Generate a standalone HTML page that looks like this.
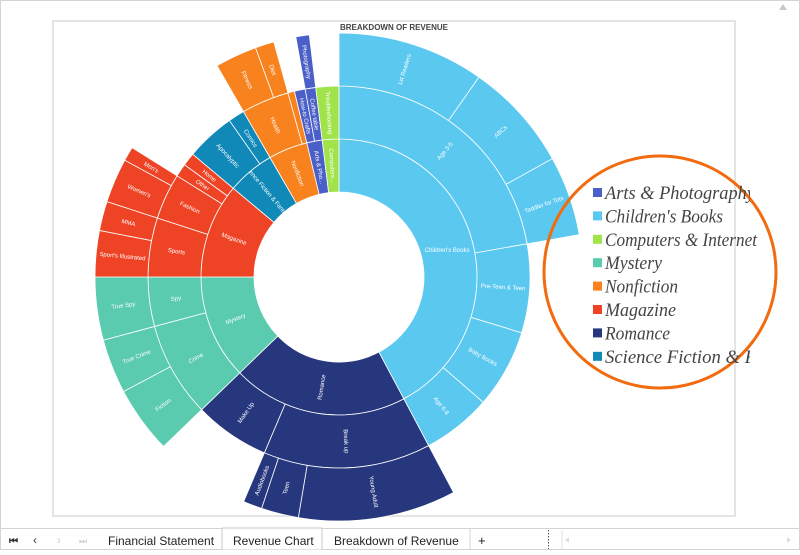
<!DOCTYPE html>
<html><head><meta charset="utf-8"><style>
body{margin:0;width:800px;height:550px;overflow:hidden;background:#fff;font-family:"Liberation Sans",sans-serif;}
</style></head><body>
<svg id="svg" width="800" height="550" viewBox="0 0 800 550" xmlns="http://www.w3.org/2000/svg">
<defs><clipPath id="legclip"><rect x="0" y="0" width="759" height="550"/></clipPath><clipPath id="legclip2"><rect x="0" y="0" width="750" height="550"/></clipPath></defs>
<rect x="0.5" y="0.5" width="799" height="549" fill="#fff" stroke="#d4d4d4"/>
<rect x="53" y="21" width="682" height="495" fill="#fff" stroke="#dcdcdc" stroke-width="1.5"/>
<polygon points="779,10 783,4 787,10" fill="#c8c8c8"/>
<text x="394" y="30" text-anchor="middle" font-size="8" font-weight="bold" fill="#444">BREAKDOWN OF REVENUE</text>
<g id="rings"></g>
<g>
<circle cx="660" cy="272" r="116" fill="none" stroke="#F26B0F" stroke-width="3"/>
<g id="legend"></g>
</g>
<g>
<line x1="0" y1="528.5" x2="800" y2="528.5" stroke="#d4d4d4"/>
<text x="9" y="544" font-size="10" fill="#333" font-weight="bold">⏮</text>
<text x="33" y="544" font-size="12" fill="#333">‹</text>
<text x="57" y="544" font-size="12" fill="#ccc">›</text>
<text x="79" y="544" font-size="9" fill="#ccc">⏭</text>
<text x="108" y="545" font-size="12" fill="#222">Financial Statement</text>
<rect x="222" y="528" width="100" height="22" fill="#fff" stroke="#c8c8c8"/>
<text x="233" y="545" font-size="12" fill="#222">Revenue Chart</text>
<line x1="470" y1="529" x2="470" y2="550" stroke="#d4d4d4"/>
<text x="334" y="545" font-size="12" fill="#222">Breakdown of Revenue</text>
<text x="478" y="545" font-size="13" fill="#222">+</text>
<line x1="548.5" y1="530" x2="548.5" y2="549" stroke="#555" stroke-dasharray="1.5,1.5"/>
<line x1="562" y1="530" x2="562" y2="549" stroke="#e0e0e0"/>
<polygon points="569,537 565,540 569,543" fill="#ddd"/>
<polygon points="787,537 791,540 787,543" fill="#ddd"/>
</g>
</svg>
<script>
// Ring 1 (categories) — values in share units
const ring1Names = ["Children's Books","Romance","Mystery","Magazine","Science Fiction & Fantasy","Nonfiction","Arts & Pho...","Computers..."];
const ring1Values = [152,74,44,40,20,16.5,6.5,7];
const ring1Colors = ["#5BC8F0","#27377D","#5ACBAE","#EE4325","#1089B8","#F7821E","#4A5FC7","#A0E34A"];
// Ring 2
const ring2Names = ["Age 3-5","Pre-Teen & Teen","Baby Books","Age 6-8","Break up","Make Up","Crime","Spy","Sports","Fashion","Other","Home","Apocalyptic","Comics","Health","","How-to Crafts","Coffee table","Troubleshooting"];
const ring2Parents = [0,0,0,0,1,1,2,2,3,3,3,3,4,4,5,5,6,6,7];
const ring2Values = [80,27,24,21,51,23,29,15,18,14,4,4,15,5,14.5,2,3.3,3.2,7];
// Ring 3
const ring3Names = ["1st Readers","ABCs","Toddler for Tots","Young Adult","Teen","Audiobooks","Fiction","True Crime","True Spy","Sport's Illustrated","MMA","Women's","Men's","Fitness","Diet","Photography"];
const ring3Parents = [0,0,0,4,4,4,6,6,7,8,8,9,9,14,14,17];
const ring3Values = [35,26,19,37.6,8.9,4.5,16,13,15,11,7,10.6,3.4,10,4.5,3.2];
// Legend
const legendNames = ["Arts & Photography","Children's Books","Computers & Internet","Mystery","Nonfiction","Magazine","Romance","Science Fiction & Fantasy"];
const legendColors = ["#4A5FC7","#5BC8F0","#A0E34A","#5ACBAE","#F7821E","#EE4325","#27377D","#1089B8"];
const legendWidths = [150,118,152,57,73,71,65,200];

const NS="http://www.w3.org/2000/svg";
const cx=339, cy=277, radii=[85,138,191,244];
const total=ring1Values.reduce((a,b)=>a+b,0);
const ang=v=>v/total*360;
function pt(r,a){const t=a*Math.PI/180;return [cx+r*Math.sin(t),cy-r*Math.cos(t)];}
function arc(r0,r1,a0,a1){
  const l=(a1-a0)>180?1:0;
  const [x0,y0]=pt(r1,a0),[x1,y1]=pt(r1,a1),[x2,y2]=pt(r0,a1),[x3,y3]=pt(r0,a0);
  return `M${x0},${y0}A${r1},${r1} 0 ${l} 1 ${x1},${y1}L${x2},${y2}A${r0},${r0} 0 ${l} 0 ${x3},${y3}Z`;
}
const g=document.getElementById('rings');
function seg(level,name,a0,a1,color){
  const p=document.createElementNS(NS,'path');
  p.setAttribute('d',arc(radii[level],radii[level+1],a0,a1));
  p.setAttribute('fill',color);p.setAttribute('stroke','#fff');p.setAttribute('stroke-width','0.8');
  
  
  g.appendChild(p);
  if(!name) return;
  const am=(a0+a1)/2, rm=(radii[level]+radii[level+1])/2;
  const [x,y]=pt(rm,am);
  const t=document.createElementNS(NS,'text');
  let rot=am<180?am-90:am+90;
  if(name==="Children's Books") rot=0;
  t.setAttribute('x',x);t.setAttribute('y',y+2);
  t.setAttribute('transform',`rotate(${rot} ${x} ${y})`);
  t.setAttribute('text-anchor','middle');t.setAttribute('font-size','6');t.setAttribute('fill','#fff');
  t.textContent=name;
  
  
  g.appendChild(t);
}
const r1s=[];let acc=0;
ring1Values.forEach((v,i)=>{r1s.push(acc);seg(0,ring1Names[i],ang(acc),ang(acc+v),ring1Colors[i]);acc+=v;});
const r2s=[];const used1=ring1Values.map(()=>0);
ring2Values.forEach((v,i)=>{const p=ring2Parents[i];const s=r1s[p]+used1[p];used1[p]+=v;r2s.push(s);
  seg(1,ring2Names[i],ang(s),ang(s+v),ring1Colors[p]);});
const used2=ring2Values.map(()=>0);
ring3Values.forEach((v,i)=>{const p=ring3Parents[i];const s=r2s[p]+used2[p];used2[p]+=v;
  seg(2,ring3Names[i],ang(s),ang(s+v),ring1Colors[ring2Parents[p]]);});

const lg=document.getElementById('legend');
legendNames.forEach((n,i)=>{
  const y=193+i*23.4;
  const r=document.createElementNS(NS,'rect');
  r.setAttribute('x',593);r.setAttribute('y',y-5);r.setAttribute('width',9);r.setAttribute('height',9);r.setAttribute('fill',legendColors[i]);
  
  
  lg.appendChild(r);
  const t=document.createElementNS(NS,'text');
  t.setAttribute('x',605);t.setAttribute('y',y+6);t.setAttribute('font-size','19');t.setAttribute('font-style','italic');
  t.setAttribute('font-family','"Liberation Serif",serif');t.setAttribute('fill','#444');
  t.setAttribute('textLength',legendWidths[i]);t.setAttribute('lengthAdjust','spacingAndGlyphs');
  t.setAttribute('clip-path',(i===0||i===7)?'url(#legclip2)':'url(#legclip)');
  t.textContent=n;
  
  
  lg.appendChild(t);
});
</script>
</body></html>
